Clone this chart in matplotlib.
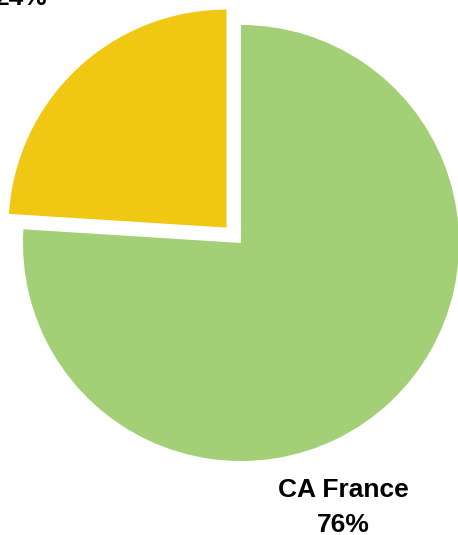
import matplotlib.pyplot as plt

labels = ['CA France', '']
values = [76, 24]
colors = ['#A3CF76', '#F0C814']
explode = [0, 0.097]

plt.rcParams['font.family'] = ['Liberation Sans', 'DejaVu Sans']

fig = plt.figure(figsize=(4.58, 5.35), dpi=100)
ax = fig.add_axes([0, 0, 1, 1])
ax.pie(values, colors=colors, explode=explode, startangle=90,
       counterclock=False, radius=1.0)
ax.set_aspect('equal')
# pie radius ~218 px, centre at (241, 243) px
ax.set_xlim(-241 / 218, (458 - 241) / 218)
ax.set_ylim(-(535 - 243) / 218, 243 / 218)
ax.axis('off')

ax.text(0.470, -1.325, 'CA France\n76%', ha='center', va='baseline',
        fontsize=19, fontweight='bold', linespacing=1.58)
ax.text(-1.01, 1.09, '24%', ha='center', va='baseline',
        fontsize=19, fontweight='bold')

fig.savefig('out.png', dpi=100)
